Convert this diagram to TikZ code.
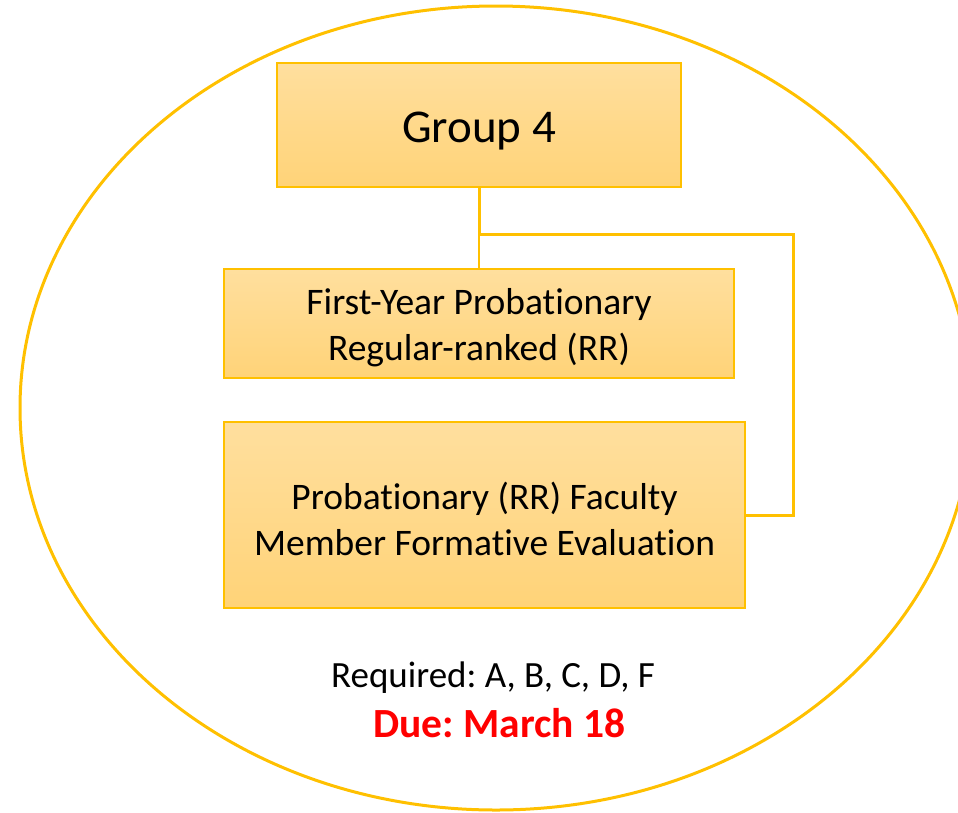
\documentclass[tikz,border=0pt]{standalone}
\usepackage{fontspec}
\setmainfont[Ligatures=NoCommon]{Carlito}
\frenchspacing
\definecolor{gold}{RGB}{255,192,0}
\definecolor{boxtop}{RGB}{255,223,158}
\definecolor{boxbot}{RGB}{255,211,120}
\definecolor{duered}{RGB}{255,0,0}
\tikzset{
  orgbox/.style={draw=gold, line width=1.8pt, top color=boxtop, bottom color=boxbot,
    inner sep=0pt},
  boxtext/.style={align=center, text=black, inner sep=0pt,
    font=\fontsize{37.5}{46}\selectfont},
  mainlink/.style={draw=gold, line width=3pt},
  sublink/.style={draw=gold, line width=1.8pt},
}
\begin{document}
\begin{tikzpicture}[x=1pt,y=-1pt]
  \useasboundingbox (0,0) rectangle (958,812);
  \clip (0,0) rectangle (958,812);
  % enclosing ellipse
  \draw[gold, line width=3pt] (496,408) ellipse [x radius=476pt, y radius=402pt];

  % boxes
  \node[orgbox, minimum width=404pt, minimum height=124pt] (g4) at (479,125) {};
  \node[orgbox, minimum width=510pt, minimum height=109pt] (fy) at (479,323.5) {};
  \node[orgbox, minimum width=521pt, minimum height=186pt] (pf) at (484.5,515) {};

  % box captions
  \node[anchor=base, inner sep=0pt, font=\fontsize{47}{56}\selectfont] (g4t) at (479,142) {Group 4};
  \node[boxtext] (fyt) at (479,327.6) {First-Year Probationary\\Regular-ranked (RR)};
  \node[boxtext] (pft) at (484.5,518.9) {Probationary (RR) Faculty\\Member Formative Evaluation};

  % connectors
  \coordinate (j) at (479,234);
  \coordinate (r) at (793,234);
  \draw[mainlink] (g4.south) -- (j) -- (r) |- (pf.east);
  \draw[sublink] (j) -- (fy.north);

  % notes under the boxes
  \node[anchor=base, font=\fontsize{37}{44}\selectfont] (req) at (493,687)
        {Required: A, B, C, D, F};
  \node[anchor=base, text=duered, font=\fontsize{41.5}{50}\selectfont\bfseries] (due) at (499.5,737)
        {Due: March 18};
\end{tikzpicture}
\end{document}
